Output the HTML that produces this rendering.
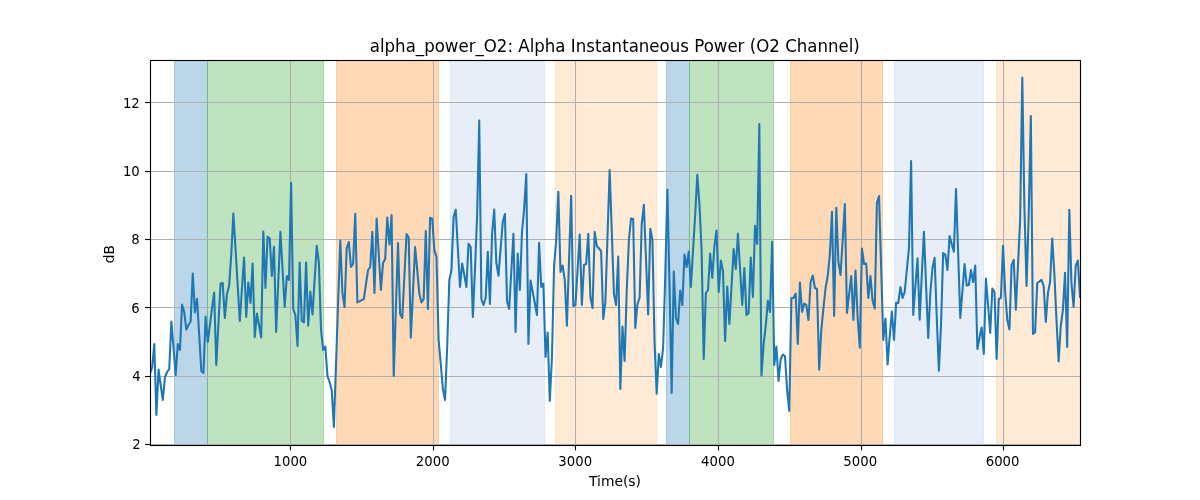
<!DOCTYPE html>
<html lang="en"><head><meta charset="utf-8"><title>alpha_power_O2</title>
<style>html,body{margin:0;padding:0;background:#fff}svg{display:block}text{font-family:"DejaVu Sans","Liberation Sans",sans-serif;fill:#000}</style></head>
<body>
<svg width="1200" height="500" viewBox="0 0 1200 500">
<rect x="0" y="0" width="1200" height="500" fill="#ffffff"/>
<defs><clipPath id="ax"><rect x="150" y="60" width="930" height="385"/></clipPath></defs>
<g clip-path="url(#ax)">
<rect x="174.5" y="59" width="33.0" height="387" fill="#1f77b4" fill-opacity="0.3" stroke="#1f77b4" stroke-opacity="0.3" stroke-width="1"/>
<rect x="207.5" y="59" width="116.0" height="387" fill="#2ca02c" fill-opacity="0.3" stroke="#2ca02c" stroke-opacity="0.3" stroke-width="1"/>
<rect x="336.5" y="59" width="102.0" height="387" fill="#ff7f0e" fill-opacity="0.3" stroke="#ff7f0e" stroke-opacity="0.3" stroke-width="1"/>
<rect x="450.5" y="59" width="94.0" height="387" fill="#aec7e8" fill-opacity="0.3" stroke="#aec7e8" stroke-opacity="0.3" stroke-width="1"/>
<rect x="555.5" y="59" width="101.0" height="387" fill="#ffbb78" fill-opacity="0.3" stroke="#ffbb78" stroke-opacity="0.3" stroke-width="1"/>
<rect x="666.5" y="59" width="23.0" height="387" fill="#1f77b4" fill-opacity="0.3" stroke="#1f77b4" stroke-opacity="0.3" stroke-width="1"/>
<rect x="689.5" y="59" width="84.0" height="387" fill="#2ca02c" fill-opacity="0.3" stroke="#2ca02c" stroke-opacity="0.3" stroke-width="1"/>
<rect x="790.5" y="59" width="92.0" height="387" fill="#ff7f0e" fill-opacity="0.3" stroke="#ff7f0e" stroke-opacity="0.3" stroke-width="1"/>
<rect x="894.5" y="59" width="89.0" height="387" fill="#aec7e8" fill-opacity="0.3" stroke="#aec7e8" stroke-opacity="0.3" stroke-width="1"/>
<rect x="996.5" y="59" width="93.5" height="387" fill="#ffbb78" fill-opacity="0.3" stroke="#ffbb78" stroke-opacity="0.3" stroke-width="1"/>
</g>
<g stroke="#b0b0b0" stroke-width="1.11" fill="none">
<line x1="290.5" y1="60" x2="290.5" y2="445"/>
<line x1="433.5" y1="60" x2="433.5" y2="445"/>
<line x1="575.5" y1="60" x2="575.5" y2="445"/>
<line x1="718.5" y1="60" x2="718.5" y2="445"/>
<line x1="861.5" y1="60" x2="861.5" y2="445"/>
<line x1="1003.5" y1="60" x2="1003.5" y2="445"/>
<line x1="150" y1="444.5" x2="1080" y2="444.5"/>
<line x1="150" y1="376.5" x2="1080" y2="376.5"/>
<line x1="150" y1="307.5" x2="1080" y2="307.5"/>
<line x1="150" y1="239.5" x2="1080" y2="239.5"/>
<line x1="150" y1="171.5" x2="1080" y2="171.5"/>
<line x1="150" y1="102.5" x2="1080" y2="102.5"/>
</g>
<g stroke="#000" stroke-width="1.11" fill="none">
<line x1="290.5" y1="445" x2="290.5" y2="450.4"/>
<line x1="433.5" y1="445" x2="433.5" y2="450.4"/>
<line x1="575.5" y1="445" x2="575.5" y2="450.4"/>
<line x1="718.5" y1="445" x2="718.5" y2="450.4"/>
<line x1="861.5" y1="445" x2="861.5" y2="450.4"/>
<line x1="1003.5" y1="445" x2="1003.5" y2="450.4"/>
<line x1="150" y1="444.5" x2="145.1" y2="444.5"/>
<line x1="150" y1="376.5" x2="145.1" y2="376.5"/>
<line x1="150" y1="307.5" x2="145.1" y2="307.5"/>
<line x1="150" y1="239.5" x2="145.1" y2="239.5"/>
<line x1="150" y1="171.5" x2="145.1" y2="171.5"/>
<line x1="150" y1="102.5" x2="145.1" y2="102.5"/>
</g>
<polyline clip-path="url(#ax)" fill="none" stroke="#1f77b4" stroke-width="2.08" stroke-linejoin="round" stroke-linecap="square" points="150.00,373.6 152.14,367.5 154.28,344.0 156.41,415.0 158.55,369.5 160.69,385.0 162.83,400.0 164.97,377.0 167.10,372.0 169.24,369.0 171.38,321.5 173.52,348.0 175.66,375.0 177.79,344.1 179.93,350.0 182.07,304.5 184.21,312.0 186.34,329.5 188.48,325.0 190.62,321.5 192.76,273.5 194.90,312.4 197.03,298.9 199.17,334.7 201.31,371.0 203.45,373.0 205.59,316.5 207.72,342.0 209.86,325.3 212.00,308.7 214.14,292.5 216.28,365.0 218.41,324.3 220.55,283.6 222.69,282.9 224.83,318.0 226.97,294.0 229.10,286.0 231.24,255.0 233.38,213.5 235.52,249.0 237.66,285.0 239.79,321.0 241.93,289.0 244.07,257.5 246.21,317.0 248.34,282.5 250.48,303.0 252.62,263.5 254.76,337.0 256.90,313.5 259.03,325.2 261.17,337.4 263.31,231.5 265.45,288.0 267.59,236.9 269.72,238.4 271.86,276.0 274.00,246.9 276.14,332.0 278.28,281.7 280.41,231.9 282.55,269.2 284.69,307.0 286.83,276.1 288.97,280.0 291.10,182.9 293.24,309.0 295.38,315.0 297.52,346.0 299.66,262.5 301.79,321.0 303.93,322.4 306.07,262.5 308.21,325.6 310.34,291.5 312.48,314.4 314.62,279.9 316.76,245.9 318.90,263.0 321.03,330.0 323.17,350.0 325.31,346.5 327.45,376.0 329.59,382.0 331.72,390.0 333.86,427.0 336.00,364.7 338.14,302.3 340.28,240.5 342.41,293.0 344.55,307.0 346.69,248.0 348.83,242.1 350.97,267.0 353.10,264.0 355.24,213.9 357.38,302.4 359.52,301.3 361.66,300.1 363.79,299.0 365.93,284.5 368.07,270.0 370.21,267.0 372.34,231.9 374.48,293.0 376.62,218.5 378.76,254.0 380.90,290.0 383.03,263.0 385.17,259.0 387.31,217.5 389.45,244.5 391.59,215.0 393.72,376.0 395.86,309.2 398.00,243.0 400.14,314.0 402.28,318.0 404.41,275.8 406.55,234.0 408.69,237.5 410.83,337.6 412.97,292.1 415.10,247.0 417.24,270.2 419.38,294.0 421.52,302.4 423.66,299.0 425.79,231.1 427.93,309.0 430.07,217.7 432.21,218.8 434.34,250.0 436.48,257.0 438.62,340.0 440.76,364.0 442.90,389.0 445.03,400.0 447.17,347.0 449.31,280.0 451.45,270.0 453.59,217.0 455.72,209.7 457.86,248.1 460.00,287.0 462.14,263.5 464.28,275.0 466.41,287.0 468.55,243.7 470.69,247.0 472.83,317.0 474.97,270.0 477.10,216.0 479.24,120.5 481.38,299.0 483.52,305.0 485.66,298.0 487.79,251.9 489.93,304.0 492.07,234.0 494.21,209.5 496.34,263.0 498.48,275.6 500.62,248.8 502.76,222.0 504.90,214.1 507.03,301.0 509.17,309.0 511.31,271.2 513.45,233.9 515.59,332.0 517.72,253.5 519.86,290.0 522.00,232.0 524.14,209.0 526.28,174.0 528.41,344.0 530.55,280.5 532.69,291.7 534.83,303.3 536.97,315.0 539.10,242.9 541.24,287.0 543.38,283.5 545.52,357.0 547.66,332.5 549.79,401.0 551.93,358.0 554.07,266.0 556.21,240.0 558.34,191.7 560.48,272.0 562.62,265.5 564.76,280.0 566.90,325.6 569.03,260.5 571.17,195.9 573.31,306.0 575.45,305.0 577.59,269.5 579.72,234.5 581.86,305.0 584.00,265.0 586.14,264.0 588.28,233.9 590.41,297.0 592.55,308.0 594.69,231.9 596.83,246.0 598.97,248.5 601.10,251.0 603.24,319.0 605.38,302.0 607.52,235.8 609.66,170.0 611.79,231.8 613.93,294.0 616.07,305.0 618.21,256.5 620.34,389.0 622.48,326.5 624.62,361.0 626.76,290.0 628.90,240.0 631.03,218.5 633.17,219.0 635.31,328.0 637.45,304.0 639.59,298.0 641.72,224.0 643.86,204.9 646.00,259.4 648.14,314.4 650.28,228.9 652.41,240.0 654.55,342.0 656.69,393.6 658.83,354.1 660.97,367.0 663.10,348.0 665.24,276.0 667.38,189.9 669.52,285.0 671.66,393.0 673.79,271.5 675.93,318.0 678.07,324.0 680.21,290.5 682.34,305.0 684.48,254.5 686.62,267.0 688.76,251.5 690.90,287.0 693.03,250.0 695.17,215.0 697.31,174.7 699.45,205.0 701.59,250.0 703.72,359.0 705.86,293.0 708.00,290.0 710.14,253.5 712.28,278.0 714.41,246.0 716.55,230.5 718.69,292.0 720.83,260.5 722.97,271.0 725.10,341.0 727.24,286.5 729.38,324.0 731.52,286.3 733.66,249.1 735.79,269.0 737.93,233.5 740.07,269.0 742.21,305.0 744.34,268.1 746.48,315.0 748.62,313.0 750.76,257.5 752.90,297.0 755.03,225.9 757.17,244.0 759.31,124.1 761.45,375.6 763.59,345.0 765.72,326.0 767.86,300.9 770.00,312.0 772.14,241.9 774.28,365.0 776.41,346.5 778.55,381.0 780.69,359.0 782.83,354.5 784.97,356.0 787.10,390.0 789.24,411.0 791.38,298.0 793.52,298.0 795.66,293.5 797.79,344.0 799.93,282.5 802.07,312.0 804.21,303.5 806.34,305.0 808.48,320.0 810.62,282.0 812.76,275.5 814.90,288.0 817.03,289.0 819.17,369.6 821.31,330.0 823.45,308.0 825.59,288.0 827.72,276.0 829.86,254.0 832.00,211.9 834.14,316.0 836.28,207.9 838.41,262.0 840.55,275.0 842.69,240.0 844.83,204.1 846.97,313.0 849.10,294.0 851.24,276.1 853.38,320.0 855.52,270.5 857.66,318.0 859.79,347.6 861.93,248.5 864.07,264.0 866.21,263.5 868.34,298.0 870.48,276.1 872.62,301.0 874.76,308.4 876.90,203.0 879.03,196.1 881.17,268.0 883.31,340.0 885.45,318.5 887.59,364.4 889.72,336.0 891.86,311.5 894.00,340.0 896.14,302.9 898.28,303.0 900.41,287.1 902.55,298.0 904.69,292.0 906.83,270.0 908.97,248.0 911.10,161.1 913.24,315.0 915.38,286.0 917.52,258.3 919.66,319.6 921.79,275.0 923.93,231.9 926.07,285.0 928.21,338.0 930.34,293.0 932.48,268.0 934.62,257.7 936.76,318.0 938.90,370.6 941.03,325.0 943.17,253.1 945.31,254.6 947.45,270.0 949.59,236.1 951.72,244.0 953.86,251.8 956.00,189.1 958.14,253.0 960.28,318.0 962.41,291.0 964.55,264.1 966.69,285.6 968.83,285.0 970.97,270.1 973.10,282.0 975.24,265.5 977.38,349.0 979.52,337.5 981.66,327.5 983.79,354.0 985.93,278.5 988.07,305.0 990.21,333.0 992.34,288.5 994.48,292.0 996.62,359.0 998.76,299.0 1000.90,298.0 1003.03,245.9 1005.17,292.0 1007.31,320.0 1009.45,329.5 1011.59,265.0 1013.72,259.9 1015.86,309.6 1018.00,265.0 1020.14,220.0 1022.28,77.5 1024.41,208.0 1026.55,286.0 1028.69,215.0 1030.83,116.1 1032.97,334.0 1035.10,332.2 1037.24,283.0 1039.38,281.6 1041.52,279.9 1043.66,286.0 1045.79,322.0 1047.93,293.0 1050.07,282.0 1052.21,238.5 1054.34,273.0 1056.48,320.0 1058.62,361.4 1060.76,326.0 1062.90,310.0 1065.03,272.9 1067.17,347.0 1069.31,209.9 1071.45,283.0 1073.59,307.0 1075.72,266.0 1077.86,260.5 1080.00,297.0"/>
<rect x="150.5" y="60.5" width="930" height="385" fill="none" stroke="#000" stroke-width="1.11"/>
<text transform="translate(290.4,466) scale(0.955,1)" font-size="13.89" text-anchor="middle">1000</text>
<text transform="translate(432.7,466) scale(0.955,1)" font-size="13.89" text-anchor="middle">2000</text>
<text transform="translate(575.2,466) scale(0.955,1)" font-size="13.89" text-anchor="middle">3000</text>
<text transform="translate(718.0,466) scale(0.955,1)" font-size="13.89" text-anchor="middle">4000</text>
<text transform="translate(860.2,466) scale(0.955,1)" font-size="13.89" text-anchor="middle">5000</text>
<text transform="translate(1002.6,466) scale(0.955,1)" font-size="13.89" text-anchor="middle">6000</text>
<text transform="translate(140.6,449.2) scale(0.955,1)" font-size="13.89" text-anchor="end">2</text>
<text transform="translate(140.6,381) scale(0.955,1)" font-size="13.89" text-anchor="end">4</text>
<text transform="translate(139.8,313) scale(0.955,1)" font-size="13.89" text-anchor="end">6</text>
<text transform="translate(139.8,244) scale(0.955,1)" font-size="13.89" text-anchor="end">8</text>
<text transform="translate(139.8,176) scale(0.955,1)" font-size="13.89" text-anchor="end">10</text>
<text transform="translate(139.8,108) scale(0.955,1)" font-size="13.89" text-anchor="end">12</text>
<text x="615" y="486" font-size="13.89" text-anchor="middle">Time(s)</text>
<text transform="translate(113.6,254.1) rotate(-90)" font-size="13.89" text-anchor="middle">dB</text>
<text transform="translate(614.8,51.8) scale(0.997,1.09)" font-size="16.67" text-anchor="middle">alpha_power_O2: Alpha Instantaneous Power (O2 Channel)</text>
</svg>
</body></html>
